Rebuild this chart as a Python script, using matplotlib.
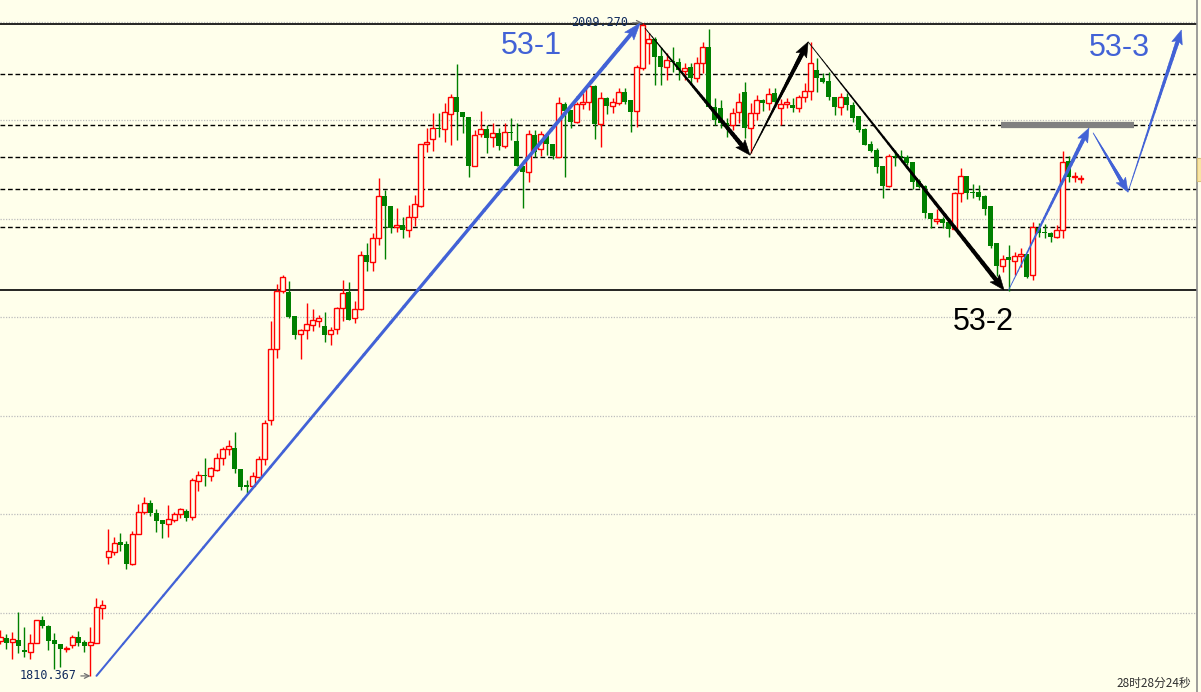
"""Gold daily candles with the 53-1 / 53-2 / 53-3 wave sketch."""

import numpy as np
import matplotlib
matplotlib.use("Agg")
import matplotlib.pyplot as plt
from matplotlib.collections import LineCollection
from matplotlib.patches import Polygon, Rectangle

# ---- data ----
opens = [
    1821.0, 1821.9, 1820.7, 1821.3, 1818.2, 1817.6, 1820.4, 1827.3, 1825.5, 1821.3,
    1820.1, 1818.6, 1819.8, 1822.2, 1820.7, 1819.8, 1820.4, 1831.0, 1846.4, 1847.9,
    1851.0, 1850.4, 1844.3, 1853.4, 1860.1, 1862.8, 1859.8, 1857.6, 1856.4, 1857.6,
    1859.5, 1860.4, 1858.5, 1869.5, 1871.3, 1871.0, 1872.8, 1876.4, 1879.2, 1879.5,
    1873.1, 1868.2, 1867.9, 1870.7, 1876.1, 1887.9, 1909.5, 1927.0, 1926.7, 1919.4,
    1914.0, 1915.2, 1916.7, 1917.9, 1916.4, 1914.0, 1915.5, 1921.9, 1926.7, 1918.8,
    1921.6, 1937.9, 1935.8, 1943.1, 1955.8, 1952.8, 1946.4, 1947.0, 1945.5, 1949.4,
    1952.8, 1971.6, 1973.1, 1976.4, 1976.1, 1980.7, 1985.8, 1981.3, 1979.7, 1964.9,
    1974.6, 1976.1, 1973.7, 1974.9, 1971.0, 1975.2, 1972.5, 1964.9, 1963.1, 1974.3,
    1970.1, 1974.3, 1971.6, 1967.6, 1983.7, 1981.9, 1978.2, 1983.7, 1984.3, 1989.1,
    1977.6, 1985.5, 1983.1, 1984.0, 1987.3, 1984.9, 1981.6, 1994.6, 2002.2, 2003.4,
    1998.2, 1994.9, 1996.7, 1996.4, 1993.7, 1994.9, 1991.6, 1996.1, 2001.0, 1982.8,
    1982.5, 1977.9, 1977.3, 1981.3, 1987.3, 1976.4, 1981.0, 1984.9, 1984.0, 1987.0,
    1982.5, 1983.7, 1983.4, 1982.5, 1985.8, 1987.6, 1994.0, 1991.6, 1990.7, 1985.8,
    1982.8, 1985.8, 1983.4, 1980.0, 1976.1, 1971.6, 1969.8, 1964.9, 1958.8, 1967.9,
    1967.9, 1967.6, 1966.1, 1960.4, 1958.8, 1950.7, 1948.2, 1948.8, 1947.9, 1945.8,
    1956.7, 1961.9, 1957.0, 1957.0, 1955.8, 1952.8, 1941.6, 1934.6, 1937.3, 1936.1,
    1937.6, 1938.2, 1931.9, 1946.1, 1944.9, 1944.6, 1943.4, 1945.5, 1966.4, 1961.6,
    1961.0,
]
highs = [
    1824.3, 1823.1, 1823.7, 1829.8, 1825.2, 1823.1, 1827.3, 1828.6, 1825.8, 1823.4,
    1820.1, 1819.5, 1822.8, 1824.0, 1821.3, 1825.2, 1834.0, 1833.4, 1854.9, 1852.5,
    1853.7, 1851.3, 1854.3, 1862.5, 1864.6, 1863.7, 1861.0, 1857.6, 1862.2, 1860.1,
    1861.3, 1861.0, 1870.4, 1872.5, 1876.4, 1873.7, 1877.9, 1879.8, 1881.9, 1884.3,
    1873.1, 1869.8, 1872.2, 1877.0, 1887.9, 1917.9, 1929.1, 1931.9, 1930.1, 1919.4,
    1915.5, 1923.4, 1921.6, 1919.8, 1920.7, 1916.1, 1922.2, 1930.4, 1929.8, 1924.0,
    1939.1, 1941.6, 1944.6, 1961.3, 1957.6, 1952.8, 1952.2, 1949.4, 1953.1, 1956.1,
    1971.6, 1976.4, 1981.0, 1981.0, 1984.0, 1986.7, 1995.8, 1981.3, 1979.7, 1975.8,
    1981.6, 1977.3, 1977.9, 1976.4, 1977.9, 1979.4, 1977.9, 1964.9, 1975.8, 1975.8,
    1975.5, 1974.9, 1971.6, 1985.8, 1984.3, 1981.9, 1984.3, 1987.0, 1990.4, 1989.4,
    1987.3, 1985.8, 1985.5, 1988.5, 1988.5, 1984.9, 1995.5, 2008.27, 2005.2, 2004.0,
    2001.0, 1999.1, 2001.0, 1997.6, 1996.1, 1996.1, 1997.9, 2002.5, 2006.4, 1985.5,
    1984.9, 1979.4, 1982.5, 1987.0, 1990.4, 1984.0, 1986.4, 1985.2, 1988.5, 1988.5,
    1985.2, 1985.5, 1985.5, 1986.4, 1990.1, 2002.5, 1997.6, 1993.1, 1993.4, 1985.8,
    1987.0, 1987.0, 1984.3, 1980.0, 1976.4, 1972.5, 1970.4, 1964.9, 1968.5, 1969.8,
    1969.8, 1968.2, 1966.1, 1961.0, 1959.1, 1950.7, 1951.9, 1949.4, 1949.1, 1957.0,
    1964.3, 1961.9, 1959.4, 1959.1, 1956.1, 1952.8, 1941.6, 1937.9, 1941.0, 1938.8,
    1940.1, 1938.2, 1947.9, 1947.6, 1947.3, 1944.9, 1947.0, 1969.4, 1967.9, 1963.1,
    1962.2,
]
lows = [
    1820.1, 1818.6, 1815.5, 1817.3, 1816.1, 1815.5, 1820.4, 1824.9, 1818.2, 1812.5,
    1813.1, 1817.6, 1818.9, 1819.5, 1817.6, 1810.367, 1820.4, 1827.6, 1844.3, 1847.0,
    1848.2, 1842.8, 1844.0, 1853.4, 1859.5, 1858.9, 1854.0, 1852.2, 1852.5, 1857.0,
    1858.2, 1857.3, 1857.6, 1866.4, 1867.9, 1869.5, 1872.5, 1874.3, 1877.3, 1871.9,
    1866.7, 1865.8, 1867.6, 1870.4, 1874.3, 1886.4, 1906.7, 1926.4, 1918.8, 1912.5,
    1906.4, 1912.5, 1914.9, 1916.1, 1911.6, 1910.7, 1914.0, 1917.9, 1918.2, 1917.3,
    1921.3, 1933.1, 1933.1, 1941.0, 1936.7, 1944.6, 1944.9, 1943.1, 1943.4, 1946.7,
    1952.5, 1969.1, 1969.4, 1973.7, 1972.2, 1971.3, 1972.8, 1974.9, 1961.6, 1964.9,
    1973.7, 1968.8, 1970.7, 1969.8, 1970.4, 1972.8, 1964.9, 1952.2, 1960.1, 1967.6,
    1967.9, 1968.2, 1967.0, 1967.6, 1961.6, 1976.4, 1977.9, 1982.2, 1981.9, 1973.1,
    1970.7, 1980.7, 1981.0, 1983.4, 1983.7, 1975.2, 1976.7, 1994.0, 1995.8, 1989.4,
    1989.4, 1991.0, 1993.4, 1991.0, 1991.0, 1990.1, 1990.4, 1993.1, 1982.8, 1977.3,
    1976.4, 1973.7, 1975.8, 1977.9, 1973.4, 1968.8, 1978.8, 1981.6, 1981.9, 1982.8,
    1977.3, 1982.5, 1981.3, 1981.3, 1984.3, 1984.9, 1987.3, 1990.1, 1984.9, 1980.4,
    1980.4, 1981.9, 1978.2, 1975.2, 1971.3, 1969.1, 1962.8, 1955.2, 1958.5, 1964.9,
    1966.7, 1965.2, 1957.9, 1958.2, 1949.1, 1946.1, 1947.3, 1946.1, 1943.4, 1945.5,
    1954.0, 1954.9, 1955.2, 1954.6, 1950.1, 1940.1, 1931.6, 1932.8, 1926.9, 1931.9,
    1934.3, 1931.0, 1930.4, 1943.4, 1943.1, 1941.9, 1943.1, 1943.1, 1960.1, 1960.1,
    1959.8,
]
closes = [
    1822.2, 1820.4, 1821.6, 1819.5, 1817.6, 1820.4, 1827.3, 1825.5, 1821.0, 1820.1,
    1818.6, 1818.9, 1822.2, 1820.4, 1819.5, 1820.7, 1831.3, 1831.9, 1848.2, 1850.7,
    1850.1, 1844.3, 1853.4, 1860.1, 1862.8, 1859.8, 1857.3, 1856.4, 1857.9, 1859.5,
    1861.0, 1858.2, 1869.8, 1871.3, 1871.0, 1873.4, 1876.4, 1879.2, 1880.1, 1873.1,
    1867.6, 1867.6, 1871.0, 1876.1, 1887.0, 1909.5, 1927.0, 1931.3, 1919.1, 1913.7,
    1915.2, 1917.0, 1918.2, 1918.8, 1913.7, 1915.2, 1921.9, 1926.4, 1918.2, 1921.6,
    1937.9, 1935.8, 1943.1, 1955.8, 1952.8, 1946.1, 1947.0, 1945.5, 1949.4, 1953.4,
    1971.6, 1972.2, 1976.4, 1976.1, 1981.3, 1985.8, 1981.3, 1979.7, 1964.9, 1974.3,
    1976.1, 1973.4, 1974.9, 1971.0, 1975.2, 1974.9, 1964.9, 1963.1, 1974.6, 1969.1,
    1974.6, 1971.6, 1967.9, 1984.0, 1981.6, 1978.2, 1983.7, 1984.3, 1989.1, 1977.6,
    1985.5, 1983.1, 1984.3, 1987.3, 1984.3, 1981.3, 1994.9, 2007.6, 2003.4, 1997.9,
    1994.9, 1997.0, 1996.4, 1994.0, 1994.6, 1991.6, 1996.1, 2001.0, 1982.8, 1978.8,
    1977.9, 1977.0, 1981.0, 1984.3, 1976.4, 1981.0, 1984.9, 1984.0, 1986.7, 1984.3,
    1983.7, 1984.3, 1982.5, 1985.8, 1987.6, 1996.1, 1991.6, 1990.4, 1985.8, 1982.8,
    1985.8, 1983.4, 1979.4, 1975.8, 1971.3, 1969.4, 1964.6, 1958.8, 1967.9, 1967.6,
    1967.6, 1965.8, 1960.1, 1958.5, 1950.7, 1948.8, 1948.8, 1947.6, 1945.8, 1956.7,
    1961.9, 1956.7, 1956.7, 1955.5, 1951.9, 1940.7, 1934.6, 1936.7, 1936.4, 1937.6,
    1938.2, 1931.3, 1946.4, 1944.6, 1944.6, 1943.4, 1945.5, 1966.1, 1961.6, 1961.9,
    1961.1,
]

grid_levels = [2008.5, 1978.7, 1948.8, 1919.0, 1889.2, 1859.3, 1829.5]
dashed_levels = [1992.8, 1977.3, 1967.6, 1957.9, 1946.4]
solid_levels = [2008.0, 1927.3]

low_mark = (15, 1810.367, "1810.367")
high_mark = (107, 2008.27, "2009.270")

# wave sketch anchors: (bar index, price)
wave_53_1 = [(16, 1810.4), (106.6, 2008.2)]
wave_black = [(107.4, 2006.7), (124.9, 1968.2), (134.6, 2002.5), (167.25, 1927.3)]
wave_up = [(168.0, 1927.3), (181.4, 1976.4)]
wave_fcst = [(182.1, 1974.9), (187.9, 1957.0), (196.8, 2006.1)]
resist = (166.75, 188.9, 1977.3)
wave_labels = [("53-1", 88.4, 2001.3, "blue"), ("53-2", 163.75, 1917.6, "black"),
               ("53-3", 186.4, 2000.7, "blue")]

BG = "#ffffeb"
RED = "#ff0000"
GREEN = "#008000"
BLUE = "#4262d6"


def taper_arrow(ax, p0, p1, color, w0, w1, head=(14, 11), n=40):
    """Line that widens from w0 to w1 px, ending in a filled head."""
    to_px = ax.transData.transform
    to_data = ax.transData.inverted().transform
    a, b = to_px(p0), to_px(p1)
    u = (b - a) / np.hypot(*(b - a))
    base = b - u * head[0] * 0.8
    t = np.linspace(0, 1, n + 1)
    pts = to_data(a + np.outer(t, base - a))
    segs = np.stack([pts[:-1], pts[1:]], axis=1)
    ax.add_collection(LineCollection(segs, linewidths=np.linspace(w0, w1, n) * 0.72,
                                     colors=color, capstyle="round", zorder=6))
    nrm = np.array([-u[1], u[0]])
    back = b - u * head[0]
    tri = to_data(np.array([b, back + nrm * head[1] / 2, base, back - nrm * head[1] / 2]))
    ax.add_patch(Polygon(tri, closed=True, fc=color, ec=color, lw=0.4, zorder=6))


fig = plt.figure(figsize=(12.01, 6.92), dpi=100)
fig.patch.set_facecolor(BG)
ax = fig.add_axes([0, 0, 1197 / 1201, 1])
ax.set_facecolor(BG)
ax.set_xlim(-0.08, 199.4)
ax.set_ylim(1805.5, 2015.2)
ax.set_xticks([])
ax.set_yticks([])
for side in ["top", "left", "bottom"]:
    ax.spines[side].set_visible(False)
ax.spines["right"].set_color("#8c8c8c")
ax.spines["right"].set_linewidth(1.2)

for lv in grid_levels:
    ax.axhline(lv, color="#bdbdbd", lw=0.9, ls=(0, (1, 1.2)), zorder=1)
for lv in dashed_levels:
    ax.axhline(lv, color="black", lw=1.0, ls=(0, (3.4, 2.0)), zorder=1)
for lv in solid_levels:
    ax.axhline(lv, color="black", lw=1.2, zorder=1)

# candles
o, h, l, c = (np.array(v) for v in (opens, highs, lows, closes))
x = np.arange(len(o))
up = c >= o
lo = np.minimum(o, c)
hgt = np.maximum(np.abs(c - o), 0.25)
ax.vlines(x[up], l[up], h[up], color=RED, lw=1.0, zorder=2)
ax.vlines(x[~up], l[~up], h[~up], color=GREEN, lw=1.0, zorder=2)
ax.bar(x[up], hgt[up], bottom=lo[up], width=0.7, facecolor=BG, edgecolor=RED,
       linewidth=1.0, zorder=3)
ax.bar(x[~up], hgt[~up], bottom=lo[~up], width=0.8, color=GREEN, zorder=3)

# price marks at extremes
mono = dict(family="DejaVu Sans Mono", fontsize=8.5, color="#102a5c")
ax.annotate(low_mark[2], xy=(low_mark[0], low_mark[1]), xytext=(12.7, low_mark[1]),
            ha="right", va="center", zorder=7,
            arrowprops=dict(arrowstyle="->", color="#707070", lw=0.9,
                            shrinkA=1, shrinkB=0), **mono)
ax.annotate(high_mark[2], xy=(high_mark[0], high_mark[1]), xytext=(104.6, high_mark[1]),
            ha="right", va="center", zorder=4,
            arrowprops=dict(arrowstyle="->", color="#707070", lw=0.9,
                            shrinkA=1, shrinkB=0), **mono)

# resistance bar
ax.hlines(resist[2], resist[0], resist[1], color="#808080", lw=4.5, zorder=4)

# wave arrows
taper_arrow(ax, wave_53_1[0], wave_53_1[1], BLUE, 2.0, 4.0, head=(17, 12))
for p0, p1 in zip(wave_black[:-1], wave_black[1:]):
    taper_arrow(ax, p0, p1, "black", 0.8, 4.5, head=(15, 12))
taper_arrow(ax, wave_up[0], wave_up[1], BLUE, 0.8, 4.0, head=(14, 11))
for p0, p1 in zip(wave_fcst[:-1], wave_fcst[1:]):
    taper_arrow(ax, p0, p1, BLUE, 0.8, 4.0, head=(14, 11))

for txt, xi, yi, col in wave_labels:
    ax.text(xi, yi, txt, ha="center", va="center", fontsize=22,
            family="Liberation Sans", color=BLUE if col == "blue" else "black", zorder=7)

# right-edge price tab and countdown text
fig.patches.append(Rectangle((1197 / 1201, 1 - 181 / 692), 4 / 1201, 23 / 692,
                             transform=fig.transFigure, fc="#fbe7a4", ec="#d9c27a", lw=0.8))
fig.text(1116 / 1201, 1 - 690 / 692, "28时28分24秒", ha="left", va="bottom", fontsize=8.5,
         color="#303030", family=["Noto Sans CJK SC", "DejaVu Sans"])

fig.savefig("out.png", dpi=100, facecolor=BG)
